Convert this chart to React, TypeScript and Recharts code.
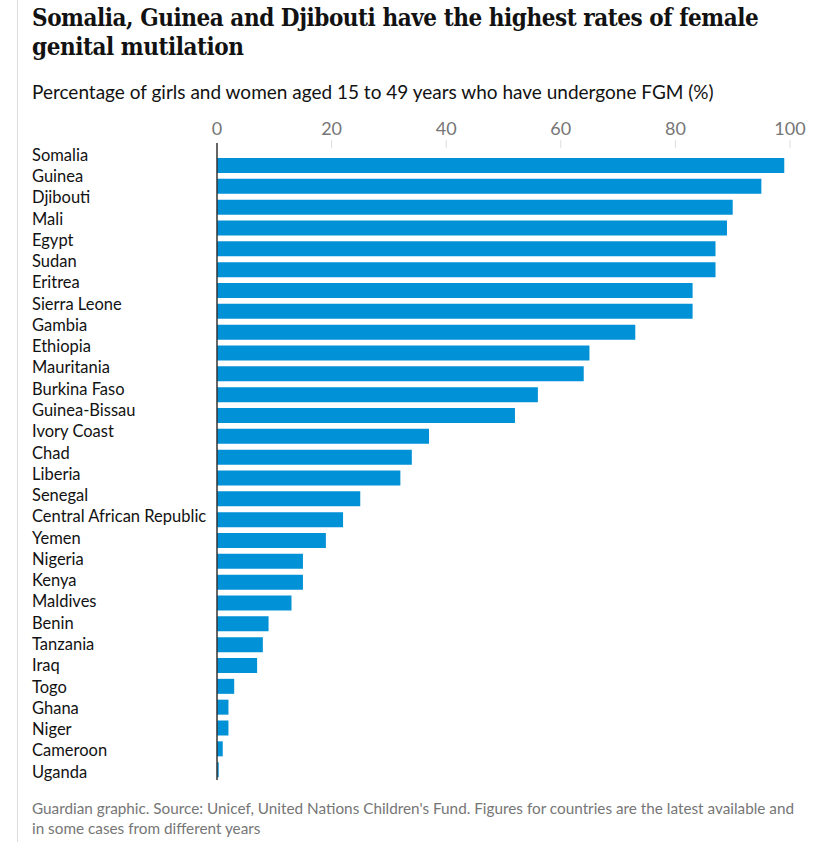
import React from 'react';
import { BarChart, Bar, XAxis, YAxis, ReferenceLine } from 'recharts';

// ── Data ─────────────────────────────────────────────────────────────────────
const countries = [
  'Somalia', 'Guinea', 'Djibouti', 'Mali', 'Egypt', 'Sudan', 'Eritrea',
  'Sierra Leone', 'Gambia', 'Ethiopia', 'Mauritania', 'Burkina Faso',
  'Guinea-Bissau', 'Ivory Coast', 'Chad', 'Liberia', 'Senegal',
  'Central African Republic', 'Yemen', 'Nigeria', 'Kenya', 'Maldives',
  'Benin', 'Tanzania', 'Iraq', 'Togo', 'Ghana', 'Niger', 'Cameroon', 'Uganda',
];
const fgmRates = [
  99, 95, 90, 89, 87, 87, 83, 83, 73, 65, 64, 56, 52, 37, 34, 32, 25,
  22, 19, 15, 15, 13, 9, 8, 7, 3, 2, 2, 1, 0.3,
];
const xTicks = [0, 20, 40, 60, 80, 100];

const data = countries.map((country, i) => ({ country, rate: fgmRates[i] }));

const SANS = 'Lato, "Open Sans", sans-serif';

// ── Ticks ────────────────────────────────────────────────────────────────────
const TopTick = ({ x, y, payload }: any) => (
  <g>
    <text x={x} y={y} textAnchor="middle" fill="#767676" fontSize={18} fontFamily={SANS}>
      {payload.value}
    </text>
    {payload.value === 0 ? (
      <line x1={x} x2={x} y1={y + 8} y2={y + 20} stroke="#333" strokeWidth={1.5} />
    ) : (
      <line x1={x} x2={x} y1={y + 5} y2={y + 13} stroke="#dcdcdc" strokeWidth={1} />
    )}
  </g>
);

// labels drift slightly against the bars in the original, so nudge per row
const CountryTick = ({ y, payload, index }: any) => (
  <text
    x={32}
    y={y + (-10.5 + 0.44 * index)}
    dy="0.35em"
    textAnchor="start"
    fill="#121212"
    fontSize={16.5}
    fontFamily={SANS}
  >
    {payload.value}
  </text>
);

export default function App() {
  return (
    <div style={{ position: 'absolute', left: 0, top: 0, width: 831, height: 842, background: '#fff' }}>
      <div style={{ position: 'absolute', left: 17, top: 0, width: 1, height: 842, background: '#dcdcdc' }} />

      <div
        style={{
          position: 'absolute', left: 32, top: 3, width: 790,
          fontFamily: '"DejaVu Serif Condensed", "DejaVu Serif", serif',
          fontWeight: 700, fontSize: 24, lineHeight: '29px', color: '#121212',
          letterSpacing: -0.45, whiteSpace: 'nowrap',
        }}
      >
        Somalia, Guinea and Djibouti have the highest rates of female
        <br />
        genital mutilation
      </div>

      <div
        style={{
          position: 'absolute', left: 32, top: 80, fontFamily: SANS,
          fontSize: 19, lineHeight: '24px', color: '#121212', whiteSpace: 'nowrap',
        }}
      >
        Percentage of girls and women aged 15 to 49 years who have undergone FGM (%)
      </div>

      <div style={{ position: 'absolute', left: 0, top: 0 }}>
        <BarChart
          width={831}
          height={842}
          data={data}
          layout="vertical"
          margin={{ top: 115, right: 41, bottom: 62, left: 17 }}
        >
          <XAxis
            type="number"
            orientation="top"
            domain={[0, 100]}
            ticks={xTicks}
            height={40}
            axisLine={false}
            tickLine={false}
            tickSize={0}
            tickMargin={20}
            tick={<TopTick />}
            interval={0}
          />
          <YAxis
            type="category"
            dataKey="country"
            width={200}
            axisLine={false}
            tickLine={false}
            tick={<CountryTick />}
            interval={0}
          />
          <Bar dataKey="rate" fill="#0091d6" barSize={15} isAnimationActive={false} />
          <ReferenceLine x={0} stroke="#333" strokeWidth={1.5} />
        </BarChart>
      </div>

      <div
        style={{
          position: 'absolute', left: 32, top: 798, width: 790, fontFamily: SANS,
          fontSize: 15.3, lineHeight: '20px', color: '#767676', whiteSpace: 'nowrap',
        }}
      >
        Guardian graphic. Source: Unicef, United Nations Children's Fund. Figures for countries are the latest available and
        <br />
        in some cases from different years
      </div>
    </div>
  );
}
